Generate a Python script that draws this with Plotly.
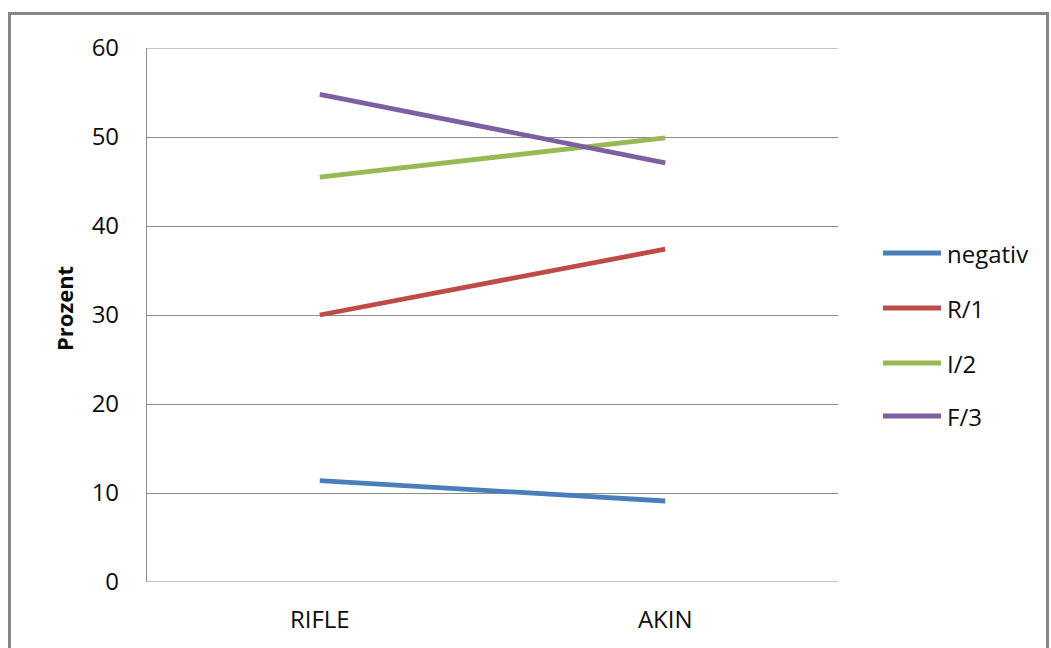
import plotly.graph_objects as go

# Category labels and series values (Prozent)
categories = ["RIFLE", "AKIN"]
series_names = ["negativ", "R/1", "I/2", "F/3"]
negativ = [11.4, 9.1]
r1 = [30.0, 37.4]
i2 = [45.5, 49.9]
f3 = [54.8, 47.1]
y_ticks = [0, 10, 20, 30, 40, 50, 60]

series_values = [negativ, r1, i2, f3]
colors = ["#4A7EBB", "#BE4B48", "#98B954", "#7D60A0"]

FONT = "Open Sans"
TXT = "#0d0d0d"
GRID = "#8c8c8c"

# Plot area geometry in pixels (for the frame and the legend placed in paper coords)
W, H = 1051, 648
L, R, T, B = 147, 213, 48, 66
pw, ph = W - L - R, H - T - B


def px_to_paper_x(px):
    return (px - L) / pw


def px_to_paper_y(py):
    return (H - B - py) / ph


fig = go.Figure()
for name, vals, col in zip(series_names, series_values, colors):
    fig.add_trace(go.Scatter(
        x=categories, y=vals, name=name, mode="lines",
        line=dict(color=col, width=4.8),
        showlegend=False,
    ))

shapes = []
annotations = []

# Outer chart frame
shapes.append(dict(
    type="rect", xref="paper", yref="paper",
    x0=px_to_paper_x(9.5), x1=px_to_paper_x(1047.5),
    y0=px_to_paper_y(700), y1=px_to_paper_y(13.5),
    line=dict(color="#868686", width=3), fillcolor="rgba(0,0,0,0)", layer="below",
))

# Gridlines at the bottom and top of the value range (Plotly skips edge gridlines)
for yv in (y_ticks[0], y_ticks[-1]):
    shapes.append(dict(
        type="line", xref="paper", yref="y",
        x0=0, x1=1, y0=yv, y1=yv,
        line=dict(color=GRID, width=1.2), layer="below",
    ))

# Legend: line samples with series names
legend_y = [253, 308, 363, 416]
for name, col, ly in zip(series_names, colors, legend_y):
    shapes.append(dict(
        type="line", xref="paper", yref="paper",
        x0=px_to_paper_x(883), x1=px_to_paper_x(941),
        y0=px_to_paper_y(ly), y1=px_to_paper_y(ly),
        line=dict(color=col, width=4.8),
    ))
    annotations.append(dict(
        text=name, xref="paper", yref="paper",
        x=px_to_paper_x(945), y=px_to_paper_y(ly),
        xanchor="left", yanchor="middle", showarrow=False,
        font=dict(family=FONT, size=24, color=TXT),
    ))

# Y axis title
annotations.append(dict(
    text="<b>Prozent</b>", xref="paper", yref="paper",
    x=px_to_paper_x(64), y=px_to_paper_y(309),
    xanchor="center", yanchor="middle", showarrow=False, textangle=-90,
    font=dict(family=FONT, size=22, color=TXT),
))

fig.update_layout(
    width=W, height=H,
    margin=dict(l=L, r=R, t=T, b=B, pad=0),
    paper_bgcolor="white", plot_bgcolor="white",
    font=dict(family=FONT, size=24, color=TXT),
    shapes=shapes,
    annotations=annotations,
    showlegend=False,
)

fig.update_xaxes(
    type="category", range=[-0.5, 1.5],
    showgrid=False, zeroline=False, showline=False,
    ticks="", ticklabelstandoff=21,
    tickfont=dict(family=FONT, size=24, color=TXT),
)

fig.update_yaxes(
    range=[0, 60], tickvals=y_ticks,
    showgrid=True, gridcolor=GRID, gridwidth=1.2,
    zeroline=False, showline=True, linecolor=GRID, linewidth=1.2,
    ticks="", ticklabelstandoff=22,
    tickfont=dict(family=FONT, size=24, color=TXT),
)

fig.write_html("out.html")
